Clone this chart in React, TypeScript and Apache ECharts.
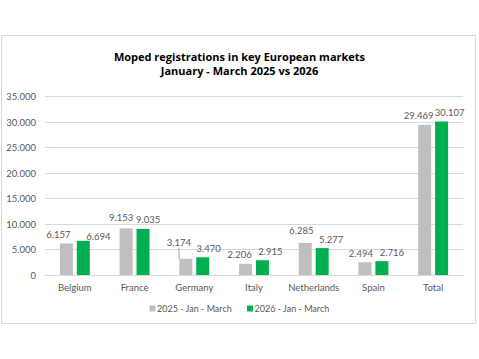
import React, { useEffect, useRef } from "react";
import * as echarts from "echarts";

const categories = ["Belgium", "France", "Germany", "Italy", "Netherlands", "Spain", "Total"];
const series2025 = [6157, 9153, 3174, 2206, 6285, 2494, 29469];
const series2026 = [6694, 9035, 3470, 2915, 5277, 2716, 30107];
const labelOffsets2025 = [[-8, 0], [-5, -2], [-7, -7], [-6, 0], [-4, -3], [-4, 0], [-6, 0]];
const labelOffsets2026 = [[15, 5], [5, 0], [6, 0], [8, 0], [9, 0], [10, 0], [8, 0]];
const seriesNames = ["2025 - Jan - March", "2026 - Jan - March"];
const titleLines = ["Moped registrations in key European markets", "January - March 2025 vs 2026"];

const fmt = (v: number) => v.toString().replace(/\B(?=(\d{3})+(?!\d))/g, ".");

export default function App() {
  const ref = useRef<HTMLDivElement>(null);
  useEffect(() => {
    const chart = echarts.init(ref.current!, null, { renderer: "svg" });
    const font = "Lato, sans-serif";
    const labelStyle = {
      show: true,
      position: "top",
      distance: 4,
      fontFamily: font,
      fontSize: 9.5,
      color: "#595959",
      formatter: (p: any) => fmt(p.value),
    };
    const layoutFrom = (offs: number[][]) => (p: any) => ({
      dx: offs[p.dataIndex][0],
      dy: offs[p.dataIndex][1],
    });
    chart.setOption({
      animation: false,
      backgroundColor: "#fff",
      title: {
        text: titleLines.join("\n"),
        left: "center",
        top: 45,
        textStyle: { fontFamily: "'Open Sans', sans-serif", fontSize: 11, fontWeight: "bold", color: "#000", lineHeight: 13.5 },
      },
      graphic: [
        {
          type: "rect",
          shape: { x: 1.5, y: 35.5, width: 474, height: 288 },
          style: { fill: "none", stroke: "#D9D9D9", lineWidth: 1 },
          silent: true,
        },
      ],
      legend: {
        data: seriesNames,
        bottom: 41,
        left: "center",
        itemWidth: 6,
        itemHeight: 6,
        itemGap: 15,
        icon: "rect",
        textStyle: { fontFamily: font, fontSize: 9, color: "#595959", padding: [0, 0, 0, -3.5] },
      },
      grid: { left: 45, right: 16, top: 96.5, bottom: 84, containLabel: false },
      xAxis: {
        type: "category",
        data: categories,
        axisLine: { lineStyle: { color: "#D9D9D9" } },
        axisTick: { show: false },
        axisLabel: { interval: 0, fontFamily: font, fontSize: 9.5, color: "#595959", margin: 7 },
      },
      yAxis: {
        type: "value",
        min: 0,
        max: 35000,
        interval: 5000,
        axisLine: { show: false },
        axisTick: { show: false },
        splitLine: { lineStyle: { color: "#D9D9D9" } },
        axisLabel: { fontFamily: font, fontSize: 9.5, color: "#595959", margin: 9, formatter: (v: number) => fmt(v) },
      },
      series: [
        {
          name: seriesNames[0],
          type: "bar",
          data: series2025.map((v, i) => ({
            value: v,
            labelLine: { show: i === 2, lineStyle: { color: "#A6A6A6", width: 1 } },
          })),
          barWidth: 13,
          barGap: "30%",
          itemStyle: { color: "#BFBFBF" },
          label: labelStyle,
          labelLayout: layoutFrom(labelOffsets2025),
        },
        {
          name: seriesNames[1],
          type: "bar",
          data: series2026,
          barWidth: 13,
          barGap: "30%",
          itemStyle: { color: "#00B050" },
          label: labelStyle,
          labelLayout: layoutFrom(labelOffsets2026),
        },
      ],
    });
    return () => chart.dispose();
  }, []);
  return (
    <div
      ref={ref}
      style={{ position: "fixed", left: 0, top: 0, width: 479, height: 359, background: "#fff" }}
    />
  );
}
